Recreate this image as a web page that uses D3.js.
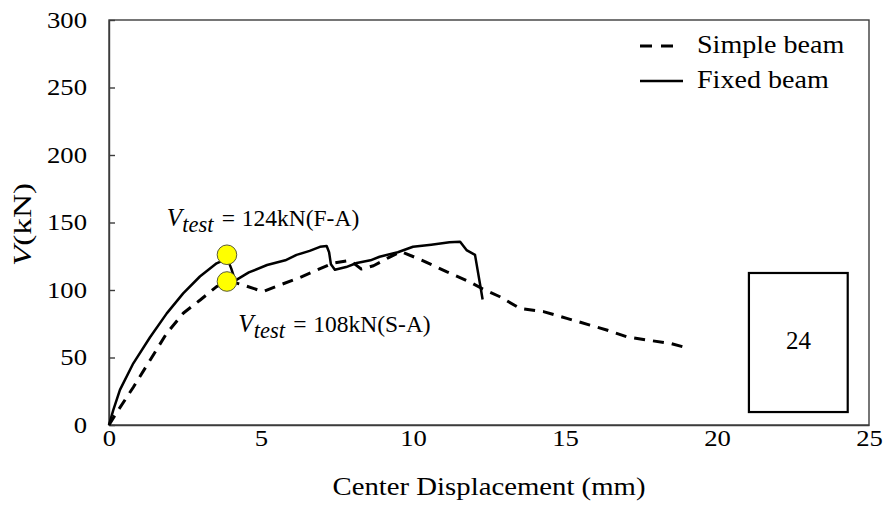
<!DOCTYPE html>
<html>
<head>
<meta charset="utf-8">
<script src="https://cdn.jsdelivr.net/npm/d3@7"></script>
<style>
  html, body { margin: 0; padding: 0; background: #fff; }
  svg { display: block; }
</style>
</head>
<body>
<svg id="chart" width="885" height="507"></svg>
<script>
// ---- data ----
const fixedX = [0, 0.14, 0.36, 0.8, 1.35, 1.9, 2.44, 2.99, 3.54, 3.76, 3.88, 4.02, 4.15, 4.6, 5.2, 5.8, 6.17, 6.6, 6.94, 7.16, 7.24, 7.3, 7.43, 7.8, 8.15, 8.6, 8.9, 9.5, 10.0, 10.6, 11.2, 11.55, 11.76, 12.04, 12.2, 12.29];
const fixedV = [0, 11, 26, 45.7, 65, 82.7, 97.5, 110, 119.8, 122, 124, 116, 107, 113, 118.5, 122, 126, 129, 132, 132.6, 128, 119, 115, 117, 120, 122, 124.6, 128, 132, 133.5, 135.3, 135.8, 129.6, 126, 105, 93];

const simpleX = [0, 0.2, 0.8, 1.35, 1.9, 2.45, 3.0, 3.54, 3.87, 4.05, 4.41, 5.07, 5.62, 6.2, 6.72, 7.38, 7.93, 8.3, 8.7, 9.2, 9.6, 10.3, 11.1, 11.87, 12.3, 12.86, 13.52, 14.29, 15.06, 15.82, 16.37, 17.03, 17.68, 18.45, 18.95];
const simpleV = [0, 7.4, 28, 48, 68, 83, 92.6, 102.5, 106, 106, 103.7, 98.8, 103.7, 108.5, 113.6, 120, 122, 115.5, 118, 124, 128.5, 122, 113.6, 106, 100.7, 95, 86.4, 84, 79, 74, 70.4, 65.4, 63, 60.5, 57.5];

const testPointsX = [3.88, 3.88];
const testPointsV = [126.1, 106.3];
const testLabels = ["124kN(F-A)", "108kN(S-A)"];

const xTicks = [0, 5, 10, 15, 20, 25];
const yTicks = [0, 50, 100, 150, 200, 250, 300];
const legendLabels = ["Simple beam", "Fixed beam"];
const specimenLabel = "24";

// ---- layout ----
const FONT = "'Liberation Serif', 'Times New Roman', serif";
const svg = d3.select("#chart");
const mLeft = 109, mRight = 869, mTop = 20, mBottom = 425;
const x = d3.scaleLinear().domain([0, 25]).range([mLeft, mRight]);
const y = d3.scaleLinear().domain([0, 300]).range([mBottom, mTop]);
const AXC = "#3c3c3c";

// helper: text with horizontal stretch around its anchor
function stext(parent, px, py, size, sx, str, anchor, rot) {
  const t = parent.append("text")
    .attr("transform", `translate(${px},${py})${rot ? " rotate(" + rot + ")" : ""} scale(${sx},1)`)
    .attr("text-anchor", anchor || "start")
    .style("font-family", FONT).style("font-size", size + "px").style("fill", "#000");
  if (str !== null) t.text(str);
  return t;
}

// plot frame
svg.append("rect")
  .attr("x", mLeft).attr("y", mTop)
  .attr("width", mRight - mLeft).attr("height", mBottom - mTop)
  .attr("fill", "none").attr("stroke", AXC).attr("stroke-width", 1.4);

// y axis (inward ticks)
const yAxis = d3.axisLeft(y).tickValues(yTicks).tickSizeInner(-6).tickSizeOuter(0).tickPadding(22).tickFormat(d3.format("d"));
const gy = svg.append("g").attr("transform", `translate(${mLeft},0)`).call(yAxis);
gy.select(".domain").attr("stroke", AXC).attr("stroke-width", 1.4);
gy.selectAll(".tick line").attr("stroke", AXC).attr("stroke-width", 1.4);
gy.selectAll(".tick text").each(function() {
  const t = d3.select(this);
  const tx = +t.attr("x");
  t.attr("x", 0).attr("transform", `translate(${tx},0) scale(1.16,1)`)
   .style("font-family", FONT).style("font-size", "23px").style("fill", "#000");
});

// x axis (no ticks)
const xAxis = d3.axisBottom(x).tickValues(xTicks).tickSize(0).tickPadding(5).tickFormat(d3.format("d"));
const gx = svg.append("g").attr("transform", `translate(0,${mBottom})`).call(xAxis);
gx.select(".domain").attr("stroke", AXC).attr("stroke-width", 1.4);
gx.selectAll(".tick text").each(function() {
  const t = d3.select(this);
  const ty = +t.attr("y");
  t.attr("y", 0).attr("transform", `translate(0,${ty}) scale(1.16,1)`)
   .style("font-family", FONT).style("font-size", "23px").style("fill", "#000");
});

// axis titles
stext(svg, (mLeft + mRight) / 2, 495, 25, 1.15, "Center Displacement (mm)", "middle");
const yt = stext(svg, 31, 224.5, 26, 1.28, null, "middle", -90);
yt.append("tspan").style("font-style", "italic").text("V");
yt.append("tspan").text("(kN)");

// lines
const line = d3.line().x(d => x(d[0])).y(d => y(d[1]));
const simpleData = simpleX.map((v, i) => [v, simpleV[i]]);
const fixedData = fixedX.map((v, i) => [v, fixedV[i]]);

svg.append("path").datum(simpleData).attr("d", line)
  .attr("fill", "none").attr("stroke", "#000").attr("stroke-width", 3)
  .attr("stroke-dasharray", "11,8").attr("stroke-linejoin", "round");

svg.append("path").datum(fixedData).attr("d", line)
  .attr("fill", "none").attr("stroke", "#000").attr("stroke-width", 2.5)
  .attr("stroke-linejoin", "round");

// test points
svg.selectAll("circle.test").data(testPointsX.map((v, i) => [v, testPointsV[i]]))
  .enter().append("circle").attr("class", "test")
  .attr("cx", d => x(d[0])).attr("cy", d => y(d[1])).attr("r", 9.8)
  .attr("fill", "#FFFF00").attr("stroke", "#5a5a3a").attr("stroke-width", 1);

// annotations  V_test = ...  (one text element, tspans)
function vtest(xp, yp, rest) {
  const t = svg.append("text").attr("x", xp).attr("y", yp)
    .style("font-family", FONT).style("font-size", "23.5px").style("fill", "#000");
  t.append("tspan").style("font-style", "italic").style("font-size", "25px").text("V");
  t.append("tspan").attr("x", xp + 15.5).attr("dy", 6)
    .style("font-style", "italic").style("font-size", "22.5px").text("test");
  t.append("tspan").attr("x", xp + 55).attr("dy", -6).text("=");
  t.append("tspan").attr("x", xp + 75).text(rest);
}
vtest(x(1.9), y(147.4), testLabels[0]);
vtest(x(4.25), y(68.9), testLabels[1]);

// legend
const legY = [46, 81];
svg.append("line").attr("x1", 640).attr("x2", 673).attr("y1", legY[0]).attr("y2", legY[0])
  .attr("stroke", "#000").attr("stroke-width", 3).attr("stroke-dasharray", "12,9");
svg.append("line").attr("x1", 640).attr("x2", 683).attr("y1", legY[1]).attr("y2", legY[1])
  .attr("stroke", "#000").attr("stroke-width", 2.5);
legendLabels.forEach((l, i) => {
  stext(svg, 697, [53, 88][i], 26, 1.08, l, "start");
});

// specimen box "24"
svg.append("rect").attr("x", x(21.05)).attr("y", y(112.6)).attr("width", x(24.3) - x(21.05))
  .attr("height", y(9.6) - y(112.6)).attr("fill", "#fff").attr("stroke", "#000").attr("stroke-width", 2.2);
stext(svg, x(22.68), 348.5, 25, 1, specimenLabel, "middle");
</script>
</body>
</html>
